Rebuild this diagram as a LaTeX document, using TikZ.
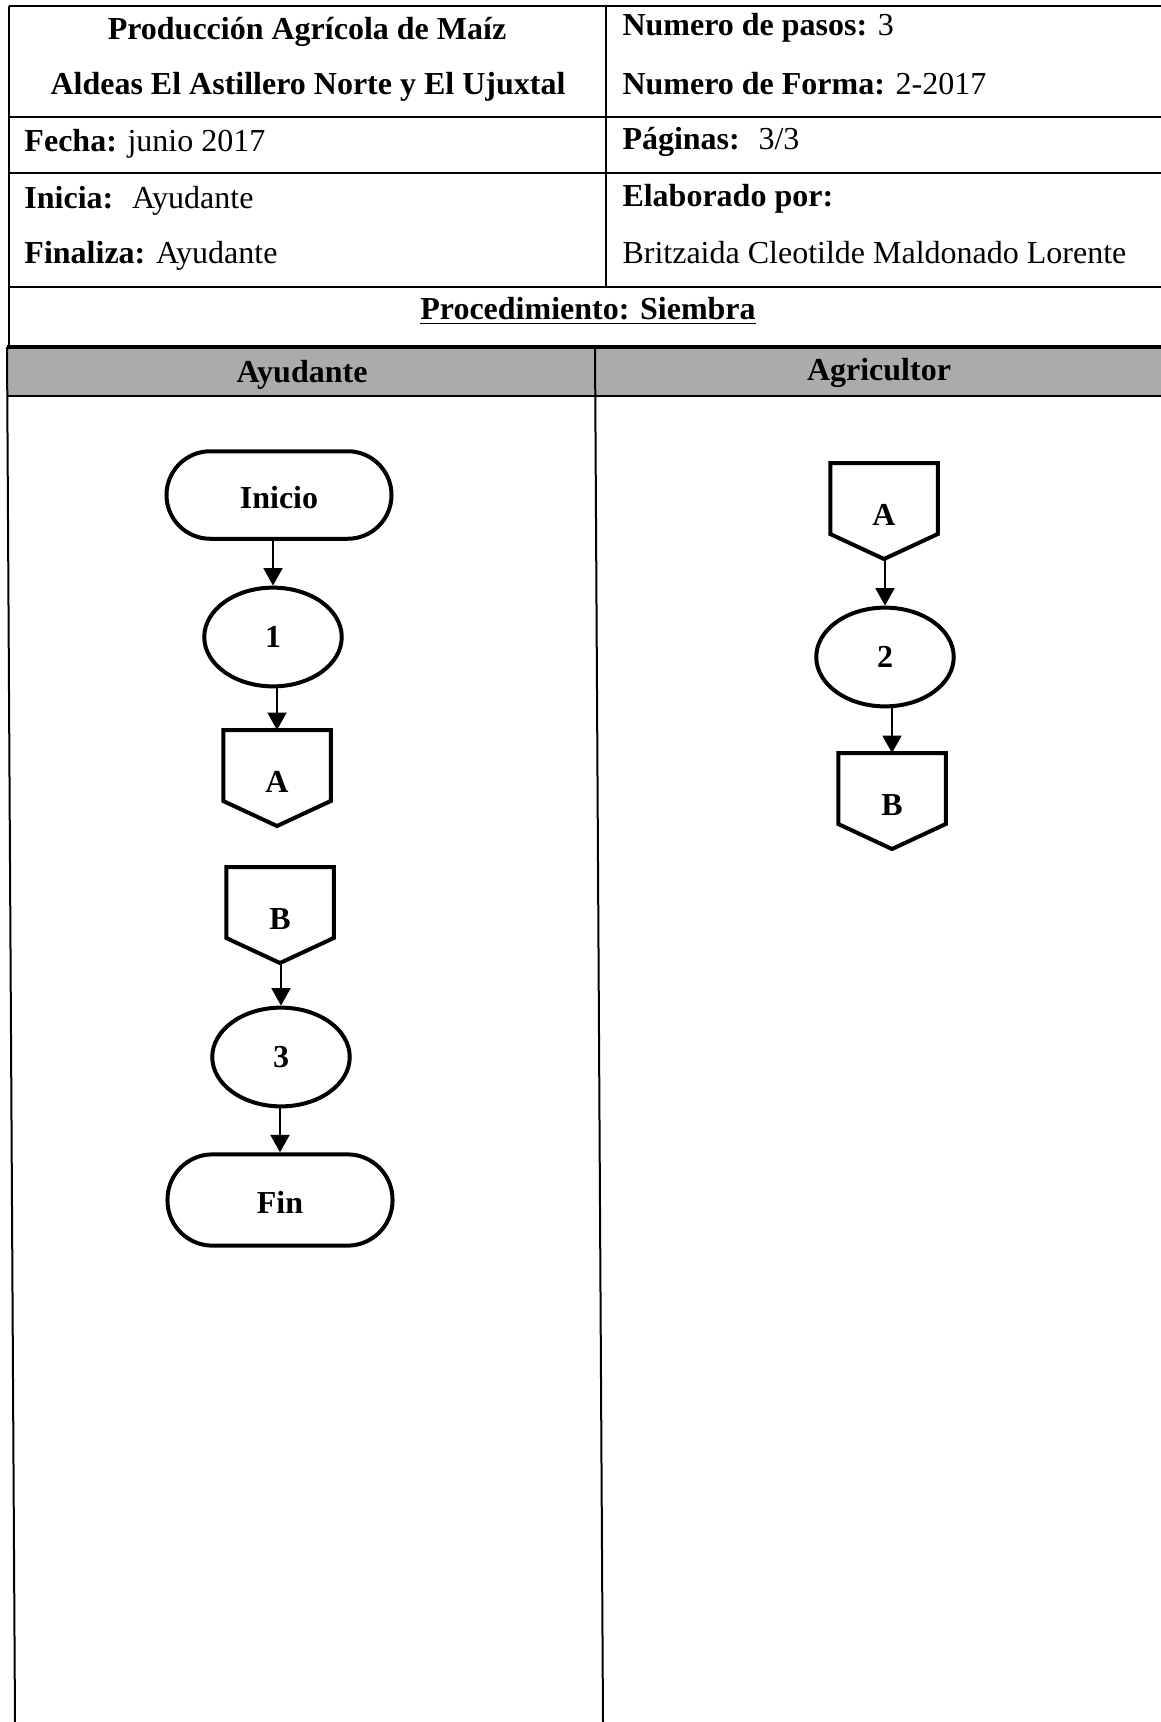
\documentclass[tikz,border=0pt]{standalone}
\usepackage{fontspec}
\setmainfont{Liberation Serif}
\usetikzlibrary{shapes.geometric,arrows.meta}
\newcommand\fsz{\fontsize{12.8pt}{15pt}\selectfont}
\tikzset{
  tline/.style={line width=0.8pt},
  shapeline/.style={line width=1.6pt, line join=miter},
  term/.style={draw, line width=1.6pt, rectangle, rounded corners=17.5pt, minimum width=90pt, minimum height=35pt, font=\fsz\bfseries, inner sep=0pt, text height=10.5pt, text depth=0pt},
  proc/.style={draw, line width=1.6pt, ellipse, minimum width=55pt, minimum height=39.5pt, font=\fsz\bfseries, inner sep=0pt},
  offp/.style={rectangle, minimum width=42.6pt, minimum height=38pt, inner sep=0pt, font=\fsz\bfseries, text height=11.5pt, text depth=0pt},
  flow/.style={line width=1.1pt, -{Triangle[length=7pt,width=7.5pt]}},
  htext/.style={anchor=west, inner sep=0pt, font=\fsz},
  ctext/.style={anchor=center, inner sep=0pt, font=\fsz}
}
\newcommand\offpg[1]{\draw[shapeline] (#1.north west) -- (#1.north east) -- ([yshift=10pt]#1.south east) -- (#1.south) -- ([yshift=10pt]#1.south west) -- cycle;}
\begin{document}
\begin{tikzpicture}[x=0.4pt,y=-0.4pt]
\useasboundingbox (0,0) rectangle (1161,1722);
% upper table
\draw[tline] (9,6) -- (1161,6);
\draw[tline] (9,117) -- (1161,117);
\draw[tline] (9,173) -- (1161,173);
\draw[tline] (9,287) -- (1161,287);
\draw[tline] (9,6) -- (9,347);
\draw[tline] (606,6) -- (606,287);
% lane header
\fill[black!33] (7,347) rectangle (1161,396);
\draw[line width=1.3pt] (7,347) -- (1161,347);
\draw[tline] (7,396) -- (1161,396);
\draw[tline] (7,347) -- (15,1722);
\draw[tline] (595,347) -- (603,1722);
% header texts
\node[ctext] (t1) at (307,32) {\bfseries Producción Agrícola de Maíz};
\node[ctext] (t2) at (308,87) {\bfseries Aldeas El Astillero Norte y El Ujuxtal};
\node[htext] (t3) at (622,28) {\bfseries Numero de pasos: \mdseries 3};
\node[htext] (t4) at (622,84) {\bfseries Numero de Forma: \mdseries 2-2017};
\node[htext] (t5) at (24,144) {\bfseries Fecha: \mdseries junio 2017};
\node[htext] (t6) at (622,142) {\bfseries Páginas: \ \mdseries 3/3};
\node[htext] (t7) at (24,201) {\bfseries Inicia: \ \mdseries Ayudante};
\node[htext] (t8) at (24,256) {\bfseries Finaliza: \mdseries Ayudante};
\node[htext] (t9) at (622,199) {\bfseries Elaborado por:};
\node[htext] (t10) at (622,253) {Britzaida Cleotilde Maldonado Lorente};
\node[ctext] (t11) at (588,311) {\bfseries \underline{Procedimiento: Siembra}};
\node[ctext] (l1) at (302,375) {\bfseries Ayudante};
\node[ctext] (l2) at (879,373) {\bfseries Agricultor};
% left lane
\node[term] (ini) at (279,495) {Inicio};
\node[proc] (e1) at (273,637) {1};
\node[offp] (A1) at (277,778) {A};
\offpg{A1}
\node[offp] (B1) at (280,915) {B};
\offpg{B1}
\node[proc] (e3) at (281,1057) {3};
\node[term, minimum height=36.5pt, rounded corners=18pt] (fin) at (280,1200) {Fin};
\draw[flow] (e1.north |- ini.south) -- (e1.north);
\draw[flow] (A1.north |- e1.south) -- (A1.north);
\draw[flow] (e3.north |- B1.south) -- (e3.north);
\draw[flow] (fin.north |- e3.south) -- (fin.north);
% right lane
\node[offp] (A2) at (884,511) {A};
\offpg{A2}
\node[proc] (e2) at (885,657) {2};
\node[offp] (B2) at (892,801) {B};
\offpg{B2}
\draw[flow] (e2.north |- A2.south) -- (e2.north);
\draw[flow] (B2.north |- e2.south) -- (B2.north);
\end{tikzpicture}
\end{document}
